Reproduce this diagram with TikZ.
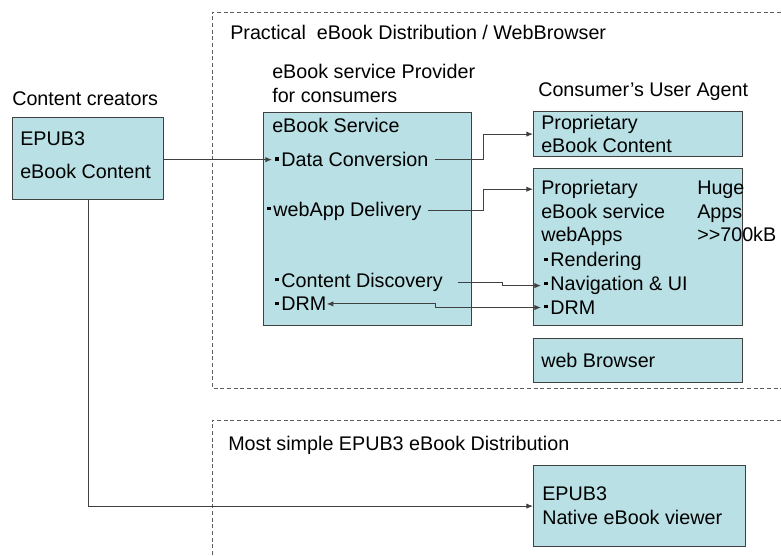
\documentclass[tikz,border=0pt]{standalone}
\usepackage{fontspec}
\setmainfont{Liberation Sans}
\usetikzlibrary{arrows.meta}
\definecolor{boxfill}{RGB}{185,224,228}
\definecolor{edge}{RGB}{64,64,64}
\tikzset{
  box/.style={draw=edge, fill=boxfill, line width=0.9pt, anchor=north west, inner sep=0pt},
  txt/.style={anchor=base west, inner sep=0pt},
  conn/.style={draw=edge, line width=0.7pt, ->},
  region/.style={draw=edge!85, dash pattern=on 3pt off 2pt, line width=0.6pt}
}
\newcommand{\bul}{\kern2.4pt\rule[4.6pt]{2.3pt}{2.3pt}\kern2.2pt}

\begin{document}
\begin{tikzpicture}[x=0.75pt, y=-0.75pt, >={Latex[length=5pt,width=4pt]}, font=\fontsize{14.8pt}{18pt}\selectfont]
	\useasboundingbox (0,0) rectangle (781,556);
	% regions
	\draw[region] (781,12) -- (212,12) -- (212,388) -- (781,388);
	\draw[region] (781,420) -- (212,420) -- (212,556);
	\node[txt] (practical) at (230,40) {Practical\ \ eBook Distribution / WebBrowser};
	\node[txt] (simple) at (228,450) {Most simple EPUB3 eBook Distribution};
	
	% content creators
	\node[txt] (creatorslbl) at (12,106) {Content creators};
	\node[box, minimum width=113.25pt, minimum height=61.5pt] (creators) at (12,117) {};
	\node[txt] (epubA) at (20,146) {EPUB3};
	\node[txt] (epubB) at (20,178) {eBook Content};
	
	% service provider
	\node[txt] (provA) at (272,79) {eBook service Provider};
	\node[txt] (provB) at (272,102.7) {for consumers};
	\node[box, minimum width=156pt, minimum height=159.75pt] (provider) at (263,112) {};
	\node[txt] (service) at (272,133) {eBook Service};
	\node[txt] (dconv) at (272,166.7) {\bul Data Conversion};
	\node[txt] (wdeliv) at (264,216) {\bul webApp Delivery};
	\node[txt] (cdisc) at (272,287.3) {\bul Content Discovery};
	\node[txt] (drmL) at (272,310.7) {\bul DRM};
	
	% user agent
	\node[txt] (agent) at (538,96.7) {Consumer’s User Agent};
	\node[box, minimum width=156.75pt, minimum height=33.75pt] (propc) at (533,111) {};
	\node[txt] (propcA) at (541,129.3) {Proprietary};
	\node[txt] (propcB) at (541,152.7) {eBook Content};
	\node[box, minimum width=156.75pt, minimum height=117.75pt] (wapps) at (533,168) {};
	\node[txt] (wappsA) at (541,194.3) {Proprietary};
	\node[txt] (wappsB) at (541,218.3) {eBook service};
	\node[txt] (wappsC) at (541,241.7) {webApps};
	\node[txt] (render) at (541,266.7) {\bul Rendering};
	\node[txt] (nav) at (541,290.7) {\bul Navigation \& UI};
	\node[txt] (drmR) at (541,314.3) {\bul DRM};
	\node[txt] (huge) at (697,195) {Huge};
	\node[txt] (apps) at (697,218.3) {Apps};
	\node[txt] (appsize) at (697,241.7) {>{}>700kB};
	\node[box, minimum width=156.75pt, minimum height=33pt] (browser) at (533,338) {};
	\node[txt] (browserlbl) at (541,367.3) {web Browser};
	
	% native viewer
	\node[box, minimum width=159pt, minimum height=60.75pt] (native) at (533,465) {};
	\node[txt] (nativeA) at (542,500) {EPUB3};
	\node[txt] (nativeB) at (542,524.3) {Native eBook viewer};
	
	% connectors
	\coordinate (jogA) at (483,0);
	\coordinate (jogB) at (502,0);
	\coordinate (jogC) at (435,0);
	\draw[conn] (dconv.west -| creators.east) -- (dconv.west);
	\draw[conn] (creators.south) |- (native.west);
	\draw[conn, shorten <=5pt] (dconv.east) -- (dconv.east -| jogA) |- (propc.west);
	\draw[conn, shorten <=5pt] (wdeliv.east) -- (wdeliv.east -| jogA) |- (wapps.west |- wappsA.west);
	\draw[conn, shorten <=11pt] (cdisc.east) -- (cdisc.east -| jogB) |- (nav.west);
	\draw[conn, <->] (drmL.east) -- (drmL.east -| jogC) |- (drmR.west);
\end{tikzpicture}
\end{document}
